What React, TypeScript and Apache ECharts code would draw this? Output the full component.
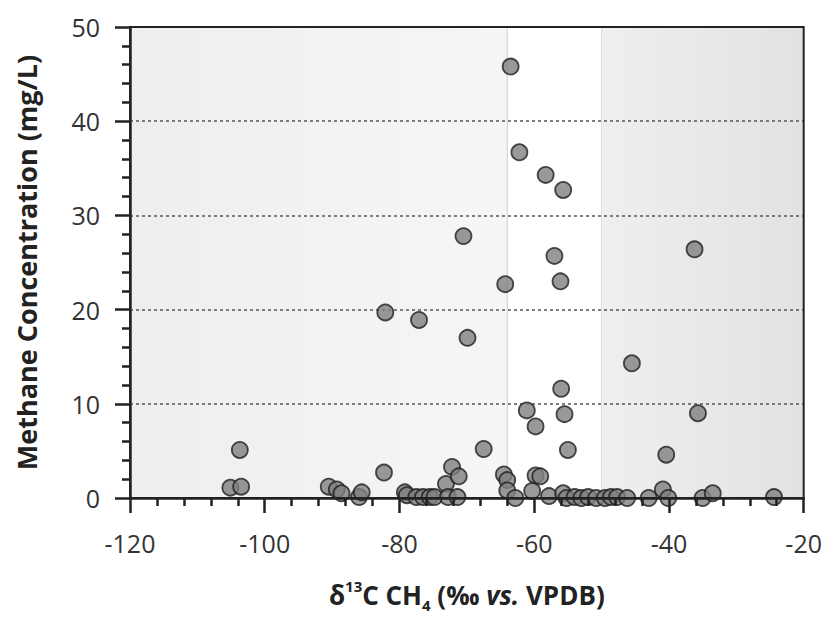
import React, { useEffect, useRef } from "react";
import * as echarts from "echarts";

// δ13C CH4 (‰ vs. VPDB)
const delta13C: number[] = [
  -105.1, -103.5, -103.7,
  -90.5, -89.3, -88.6, -86.0, -85.6,
  -82.3, -82.1, -79.2, -78.9, -77.5, -77.1, -76.5, -75.5, -74.8,
  -73.1, -72.2, -71.2, -72.8, -71.4, -70.5, -69.9, -67.5,
  -64.5, -64.0, -64.0, -64.3, -63.5, -62.8, -62.2, -61.1, -60.3,
  -59.8, -59.1, -59.8, -58.3, -57.8, -57.0, -56.1, -56.0, -55.7,
  -55.5, -55.0, -55.7, -55.2, -54.0, -53.0, -52.0, -50.8, -49.5,
  -48.6, -47.7, -46.2, -45.5, -43.0, -40.9, -40.4, -40.1,
  -36.2, -35.7, -35.0, -33.5, -24.4,
];

// Methane concentration (mg/L)
const methane: number[] = [
  1.1, 1.2, 5.1,
  1.2, 0.9, 0.5, 0.1, 0.6,
  2.7, 19.7, 0.6, 0.3, 0.1, 18.9, 0.1, 0.1, 0.1,
  1.5, 3.3, 2.3, 0.1, 0.1, 27.8, 17.0, 5.2,
  2.5, 1.9, 0.8, 22.7, 45.8, 0.0, 36.7, 9.3, 0.75,
  2.4, 2.3, 7.6, 34.3, 0.2, 25.7, 23.0, 11.6, 32.7,
  8.9, 5.1, 0.5, 0.0, 0.1, 0.0, 0.1, 0.0, 0.0,
  0.1, 0.1, 0.0, 14.3, 0.0, 0.9, 4.6, 0.0,
  26.4, 9.0, 0.0, 0.5, 0.1,
];

// background zones along the δ13C axis
const zoneBounds: number[] = [-120, -64, -50, -20];

const FONT = "'Open Sans', 'Noto Sans', sans-serif";

export default function App() {
  const ref = useRef<HTMLDivElement>(null);

  useEffect(() => {
    if (!ref.current) return;
    const chart = echarts.init(ref.current, undefined, { renderer: "svg" });
    const points = delta13C.map((x, i) => [x, methane[i]]);

    const titleBase = { fontFamily: FONT, fontWeight: "bold", color: "#222" };

    chart.setOption({
      animation: false,
      backgroundColor: "#ffffff",
      grid: {
        left: 130,
        right: 12,
        top: 27,
        bottom: 130,
        show: true,
        borderColor: "#222",
        borderWidth: 2,
        backgroundColor: "transparent",
        z: 6,
      },
      xAxis: {
        type: "value",
        min: -120,
        max: -20,
        interval: 20,
        z: 6,
        name: "{d|δ}{sup|13}{d|C CH}{sub|4}{d| (‰ }{i|vs.}{d| VPDB)}",
        nameLocation: "middle",
        nameGap: 80,
        nameTextStyle: {
          rich: {
            d: { ...titleBase, fontSize: 26, lineHeight: 34, verticalAlign: "middle" },
            i: { ...titleBase, fontStyle: "italic", fontSize: 26, lineHeight: 34, verticalAlign: "middle" },
            sup: { ...titleBase, fontSize: 15, lineHeight: 22, verticalAlign: "top" },
            sub: { ...titleBase, fontSize: 15, lineHeight: 18, verticalAlign: "bottom" },
          },
        },
        axisLine: { show: true, onZero: false, lineStyle: { color: "#222", width: 2.5 } },
        axisTick: { show: true, inside: false, length: 15, lineStyle: { color: "#222", width: 2.5 } },
        minorTick: { show: true, splitNumber: 5, length: 8, lineStyle: { color: "#222", width: 2.5 } },
        axisLabel: { fontFamily: FONT, fontSize: 25, color: "#333", margin: 32 },
        splitLine: { show: false },
      },
      yAxis: {
        type: "value",
        min: 0,
        max: 50,
        interval: 10,
        z: 4,
        name: "Methane Concentration (mg/L)",
        nameLocation: "middle",
        nameGap: 90,
        nameTextStyle: { ...titleBase, fontSize: 27 },
        axisLine: { show: true, onZero: false, lineStyle: { color: "#222", width: 2.5 } },
        axisTick: { show: true, inside: false, length: 15, lineStyle: { color: "#222", width: 2.5 } },
        minorTick: { show: true, splitNumber: 5, length: 8, lineStyle: { color: "#222", width: 2.5 } },
        axisLabel: { fontFamily: FONT, fontSize: 25, color: "#333", margin: 30 },
        splitLine: { show: true, lineStyle: { color: "#555", width: 1.5, type: [3, 3] } },
      },
      series: [
        {
          type: "scatter",
          data: points,
          symbol: "circle",
          symbolSize: 16,
          clip: false,
          z: 5,
          itemStyle: { color: "#808080", borderColor: "#1e1e1e", borderWidth: 1.8 },
          markArea: {
            silent: true,
            z: 1,
            data: [
              [
                {
                  xAxis: zoneBounds[0],
                  yAxis: 0,
                  itemStyle: {
                    color: new echarts.graphic.LinearGradient(0, 0, 1, 0, [
                      { offset: 0, color: "#eeeeee" },
                      { offset: 1, color: "#f6f6f6" },
                    ]),
                  },
                },
                { xAxis: zoneBounds[1], yAxis: 50 },
              ],
              [
                {
                  xAxis: zoneBounds[1],
                  yAxis: 0,
                  itemStyle: { color: "#ffffff", borderColor: "#d4d4d4", borderWidth: 1.2 },
                },
                { xAxis: zoneBounds[2], yAxis: 50 },
              ],
              [
                {
                  xAxis: zoneBounds[2],
                  yAxis: 0,
                  itemStyle: {
                    color: new echarts.graphic.LinearGradient(0, 0, 1, 0, [
                      { offset: 0, color: "#efefef" },
                      { offset: 1, color: "#e2e2e2" },
                    ]),
                  },
                },
                { xAxis: zoneBounds[3], yAxis: 50 },
              ],
            ],
          },
        },
      ],
    });

    return () => chart.dispose();
  }, []);

  return <div ref={ref} style={{ width: 825, height: 628, position: "absolute", left: 0, top: 0 }} />;
}
